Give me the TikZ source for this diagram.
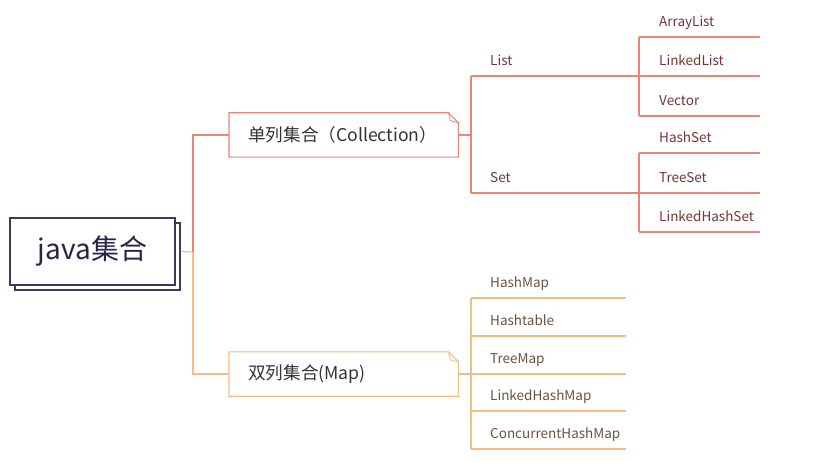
\documentclass[tikz,border=0pt]{standalone}
\usepackage{fontspec}
\setmainfont{Noto Sans CJK SC}
\usetikzlibrary{shadows}
\definecolor{lred}{HTML}{EC8575}
\definecolor{lorange}{HTML}{F8BC82}
\definecolor{tred}{HTML}{763434}
\definecolor{torange}{HTML}{6A5240}
\definecolor{navy}{HTML}{3A3A5C}
\definecolor{tnavy}{HTML}{25254A}
\begin{document}
\begin{tikzpicture}[x=1pt,y=-1pt,
  redln/.style={draw=lred, line width=1.1pt},
  orln/.style={draw=lorange, line width=1.1pt},
  leaf/.style 2 args={anchor=south west, inner xsep=0pt, inner ysep=7.5pt,
    text height=10pt, text depth=3pt, text width=#1, align=left,
    font=\fontsize{13.5}{15}\selectfont,
    execute at begin node={\hyphenpenalty=10000\hspace*{#2}}},
  rleaf/.style={leaf={#1}{19pt}, text=tred},
  rleafb/.style={leaf={#1}{20pt}, text=tred},
  oleaf/.style={leaf={#1}{19pt}, text=torange},
  branch/.style={anchor=west, inner xsep=0pt, minimum height=44pt,
    text width=229pt, align=left, text=black!80,
    font=\fontsize{17.6}{20}\selectfont,
    execute at begin node={\hspace*{19pt}}},
  rootbox/.style={draw=navy, line width=1.2pt, fill=white,
    copy shadow={shadow xshift=5pt, shadow yshift=-5pt},
    minimum width=165pt, minimum height=67pt,
    font=\fontsize{28}{32}\selectfont, text=tnavy}
]
\useasboundingbox (0,0) rectangle (824,462);

% root
\node[rootbox] (root) at (92.5,251.5) {java集合};
\coordinate (sp) at (193,252);

% branch boxes
\node[branch] (coll) at (229,135) {\phantom{x}};
\node[branch] (map) at (229,374) {\phantom{x}};

\draw[redln, fill=white] (coll.south west) -- (coll.north west)
  -- ([xshift=-10pt]coll.north east) -- ([yshift=-10pt]coll.north east)
  -- (coll.south east) -- cycle;
\draw[redln, line width=0.8pt] ([xshift=-10pt]coll.north east) -- ([xshift=-8pt,yshift=-8pt]coll.north east) -- ([yshift=-10pt]coll.north east);
\draw[orln, fill=white] (map.south west) -- (map.north west)
  -- ([xshift=-10pt]map.north east) -- ([yshift=-10pt]map.north east)
  -- (map.south east) -- cycle;
\draw[orln, line width=0.8pt] ([xshift=-10pt]map.north east) -- ([xshift=-8pt,yshift=-8pt]map.north east) -- ([yshift=-10pt]map.north east);
\node[branch] (colltext) at (229,135) {单列集合（Collection）};
\node[branch] (maptext) at (229,374) {双列集合(Map)};

% root connectors
\draw[orln] ([xshift=5pt]root.east) -- (sp);
\draw[redln] (sp) -- (sp |- coll.west) -- (coll.west);
\draw[orln] (sp) -- (sp |- map.west) -- (map.west);

% Collection subtree
\node[rleaf=168pt] (list) at (471,76) {List};
\node[rleaf=168pt] (set) at (471,193) {Set};
\draw[redln] (list.south west) -- (list.south east);
\draw[redln] (set.south west) -- (set.south east);
\draw[redln] (list.south west) -- (set.south west);
\draw[redln] (coll.east) -- (coll.east -| list.south west);

\node[rleafb=121pt] (al) at (639,37) {ArrayList};
\node[rleafb=121pt] (ll) at (639,76) {LinkedList};
\node[rleafb=121pt] (ve) at (639,116) {Vector};
\node[rleafb=121pt] (hs) at (639,153) {HashSet};
\node[rleafb=121pt] (ts) at (639,193) {TreeSet};
\node[rleafb=121pt] (lhs) at (639,232) {LinkedHashSet};
\foreach \n in {al,ll,ve,hs,ts,lhs}
  \draw[redln] (\n.south west) -- (\n.south east);
\draw[redln] (al.south west) -- (ve.south west);
\draw[redln] (hs.south west) -- (lhs.south west);

% Map subtree
\node[oleaf=155pt] (hm) at (471,298) {HashMap};
\node[oleaf=155pt] (ht) at (471,336) {Hashtable};
\node[oleaf=155pt] (tm) at (471,374) {TreeMap};
\node[oleaf=155pt] (lhm) at (471,411) {LinkedHashMap};
\node[oleaf=155pt] (chm) at (471,449) {ConcurrentHashMap};
\foreach \n in {hm,ht,tm,lhm,chm}
  \draw[orln] (\n.south west) -- (\n.south east);
\draw[orln] (hm.south west) -- (chm.south west);
\draw[orln] (map.east) -- (map.east -| hm.south west);
\end{tikzpicture}
\end{document}
